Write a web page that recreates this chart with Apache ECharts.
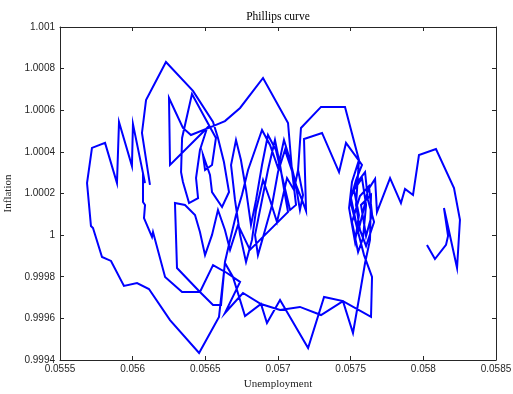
<!DOCTYPE html>
<html>
<head>
<meta charset="utf-8">
<script src="https://cdn.jsdelivr.net/npm/echarts@6/dist/echarts.min.js"></script>
<style>
html,body{margin:0;padding:0;background:#fff;}
#chart{width:513px;height:394px;}
</style>
</head>
<body>
<div id="chart"></div>
<script>
var unemployment = [
0.056119,0.056064,0.056092,0.056229,0.056415,0.056553,0.056587,0.056628,0.056663,0.056615,
0.056546,0.056532,0.056484,0.056498,0.056546,0.056573,0.056408,0.056340,0.056333,0.056346,
0.056388,0.056450,0.056436,0.056463,0.056512,0.056257,0.056250,0.056346,0.056401,0.056553,
0.056635,0.056739,0.056897,0.057069,0.057096,0.057124,0.057083,0.057034,0.056986,0.056931,
0.056890,0.056849,0.056814,0.056780,0.056745,0.056711,0.056677,0.056704,0.056739,0.056780,
0.056821,0.056849,0.056897,0.056945,0.056993,0.057028,0.057062,0.057110,0.057138,0.057158,
0.057296,0.057461,0.057557,
0.057509,0.057489,0.057530,0.057557,0.057523,0.057578,0.057606,0.057585,0.057551,0.057509,
0.057564,0.057626,0.057647,0.057606,0.057571,0.057640,0.057633,0.057599,
0.057564,0.057516,0.057447,0.057317,0.057207,0.057014,0.056924,0.056883,0.056773,0.056690,
0.056635,0.056594,0.056457,0.056257,0.056112,0.056030,0.055940,0.055851,0.055789,0.055727,
0.055713,0.055686,0.055720,0.055810,0.055892,0.055906,0.055995,0.056002,0.056085,0.056071,
0.056071,0.056085,0.056078,0.056133,0.056140,0.056223,0.056340,0.056463,0.056553,0.056649,
0.056739,0.056635,0.056759,
0.056883,0.057014,0.057151,0.057296,0.057447,0.057640,0.057647,
0.057592,0.057544,0.057496,0.057537,0.057599,0.057619,0.057661,0.057606,0.057564,0.057537,
0.057557,
0.057461,0.057296,0.057158,0.057138,0.057172,0.057151,0.057117,0.057048,0.057000,0.056959,
0.056911,0.056862,0.056842,0.056890,0.056931,0.056979,0.057014,0.057048,0.057069,0.056807,
0.056725,0.056670,0.056635,0.056587,0.056546,0.056498,0.056463,0.056429,0.056360,0.056291,
0.056305,0.056463,0.056553,0.056608,0.056635,0.056670,0.056711,0.056752,0.056794,0.056842,
0.056890,0.056945,0.057000,0.057041,0.057083,0.057124,0.057165,0.057193,0.057179,
0.057303,0.057420,0.057468,0.057578,0.057537,0.057502,0.057551,0.057585,0.057619,0.057668,
0.057681,0.057771,0.057846,0.057874,0.057929,0.057970,0.058087,0.058211,0.058252,0.058232,
0.058142,0.058170,0.058156,0.058080,0.058025
];
var inflation = [
1.000241,1.000491,1.000649,1.000832,1.000693,1.000544,1.000467,1.000351,1.000207,1.000135,
1.000207,1.000289,1.000385,1.000313,1.000337,1.000467,1.000678,1.000467,1.000303,1.000255,
1.000154,1.000178,1.000274,1.000409,1.000515,1.000337,1.000659,1.000515,1.000481,1.000524,
1.000548,1.000611,1.000755,1.000539,1.000313,1.000145,1.000121,1.000265,1.000409,1.000481,
1.000337,1.000169,1.000049,1.000217,1.000361,1.000457,1.000337,1.000169,1.000001,0.999871,
0.999977,1.000121,1.000265,1.000169,1.000063,1.000169,1.000274,1.000217,1.000313,1.000515,
1.000616,1.000616,1.000361,
1.000255,1.000130,0.999967,1.000097,1.000217,1.000274,1.000145,0.999986,0.999919,1.000063,
1.000188,1.000236,1.000101,0.999996,1.000145,1.000193,0.999977,0.999866,
0.999722,0.999530,0.999683,0.999703,0.999458,0.999688,0.999578,0.999669,0.999611,0.999799,
0.999866,0.999607,0.999434,0.999592,0.999741,0.999770,0.999756,0.999876,0.999895,1.000034,
1.000044,1.000250,1.000419,1.000443,1.000250,1.000544,1.000332,1.000534,1.000250,1.000289,
1.000159,1.000145,1.000082,0.999991,1.000015,0.999799,0.999727,0.999727,0.999856,0.999818,
0.999775,0.999626,0.999722,
0.999669,0.999640,0.999655,0.999616,0.999683,0.999607,0.999799,
0.999904,1.000034,1.000169,1.000246,1.000303,1.000169,1.000063,0.999948,1.000025,1.000145,
1.000361,
1.000616,1.000616,1.000515,1.000313,1.000193,1.000121,1.000265,1.000409,1.000303,1.000145,
1.000025,0.999904,1.000001,1.000169,1.000313,1.000457,1.000337,1.000193,1.000111,0.999929,
1.000049,0.999929,1.000025,1.000121,1.000001,0.999904,1.000015,1.000097,1.000145,1.000154,
0.999842,0.999727,0.999664,0.999664,0.999871,0.999977,1.000097,1.000193,1.000313,1.000409,
1.000505,1.000433,1.000323,1.000457,1.000361,1.000241,1.000169,1.000116,1.000462,
1.000491,1.000303,1.000443,1.000337,1.000265,1.000178,1.000015,1.000111,1.000217,1.000270,
1.000111,1.000274,1.000154,1.000222,1.000193,1.000385,1.000414,1.000226,1.000073,0.999842,
1.000130,0.999996,0.999953,0.999885,0.999953
];
var xTicks = {min: 0.0555, max: 0.0585, step: 0.0005};
var yTicks = {min: 0.9994, max: 1.001, step: 0.0002};
var titleText = 'Phillips curve';
var xName = 'Unemployment';
var yName = 'Inflation';

var points = unemployment.map(function(u, i){ return [u, inflation[i]]; });
function fmt(v){ return String(parseFloat(v.toFixed(4))); }

var axisColor = '#262626';
var labelFont = 'Liberation Sans, Arial, sans-serif';
var serif = 'Liberation Serif, Times New Roman, serif';

function xAx(pos, show){
  return {
    type: 'value', position: pos, min: xTicks.min, max: xTicks.max, interval: xTicks.step,
    axisLine: {show: true, onZero: false, lineStyle: {color: axisColor, width: 1}},
    axisTick: {show: true, inside: true, length: 4, lineStyle: {color: axisColor}},
    axisLabel: {show: show, formatter: fmt, color: axisColor, fontSize: 10, fontFamily: labelFont, margin: 4},
    splitLine: {show: false},
    name: show ? xName : '', nameLocation: 'middle', nameGap: 18,
    nameTextStyle: {color: axisColor, fontSize: 11, fontFamily: serif}
  };
}
function yAx(pos, show){
  return {
    type: 'value', position: pos, min: yTicks.min, max: yTicks.max, interval: yTicks.step,
    axisLine: {show: true, onZero: false, lineStyle: {color: axisColor, width: 1}},
    axisTick: {show: true, inside: true, length: 4, lineStyle: {color: axisColor}},
    axisLabel: {show: show, formatter: fmt, color: axisColor, fontSize: 10, fontFamily: labelFont, margin: 5},
    splitLine: {show: false},
    name: show ? yName : '', nameLocation: 'middle', nameGap: 41,
    nameTextStyle: {color: axisColor, fontSize: 11, fontFamily: serif}
  };
}

var chart = echarts.init(document.getElementById('chart'), null, {renderer: 'canvas'});
chart.setOption({
  animation: false,
  backgroundColor: '#ffffff',
  grid: {left: 60, right: 17, top: 27, bottom: 34, containLabel: false, outerBoundsMode: 'none'},
  xAxis: [xAx('bottom', true), xAx('top', false)],
  yAxis: [yAx('left', true), yAx('right', false)],
  graphic: [{
    type: 'text', x: 278, y: 17,
    style: {text: titleText, fill: '#000', font: '11.5px ' + serif, align: 'center', verticalAlign: 'middle', textAlign: 'center', textVerticalAlign: 'middle'}
  }],
  series: [{
    type: 'line',
    xAxisIndex: 0, yAxisIndex: 0,
    data: points,
    showSymbol: false,
    symbol: 'none',
    smooth: false,
    lineStyle: {color: '#0000ff', width: 2, join: 'miter'},
    itemStyle: {color: '#0000ff'}
  }]
});
</script>
</body>
</html>
